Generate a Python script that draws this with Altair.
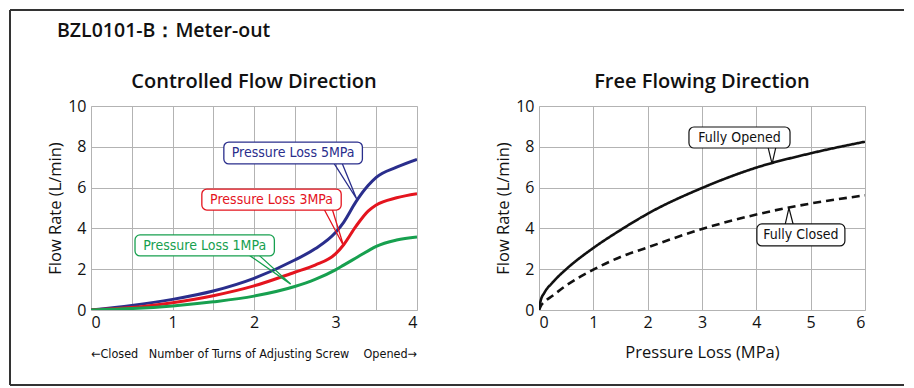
import altair as alt
import pandas as pd

# ---------------- data ----------------
turns = [0, 0.5, 1, 1.5, 2, 2.5, 2.75, 3, 3.1, 3.25, 3.4, 3.5, 3.75, 4]
loss_5mpa = [0, 0.22, 0.52, 0.93, 1.55, 2.45, 3.0, 3.8, 4.3, 5.3, 6.1, 6.5, 7.0, 7.38]
loss_3mpa = [0, 0.12, 0.36, 0.70, 1.18, 1.85, 2.2, 2.75, 3.2, 4.1, 4.85, 5.15, 5.5, 5.7]
loss_1mpa = [0, 0.07, 0.20, 0.40, 0.68, 1.15, 1.5, 1.97, 2.2, 2.55, 2.9, 3.12, 3.43, 3.58]

pressure = [0, 0.03, 0.1, 0.25, 0.5, 1, 1.5, 2, 3, 4, 5, 6]
fully_opened = [0, 0.45, 0.85, 1.35, 2.0, 3.04, 3.92, 4.72, 5.98, 6.98, 7.68, 8.25]
fully_closed = [0, 0.18, 0.4, 0.7, 1.2, 1.98, 2.6, 3.07, 3.97, 4.68, 5.22, 5.62]

series_left = ["Pressure Loss 5MPa", "Pressure Loss 3MPa", "Pressure Loss 1MPa"]
colors_left = ["#2a2e8c", "#e4141e", "#17a04f"]
series_right = ["Fully Opened", "Fully Closed"]

x_ticks_left = [0, 0.5, 1, 1.5, 2, 2.5, 3, 3.5, 4]
x_ticks_right = [0, 1, 2, 3, 4, 5, 6]
y_ticks = [0, 2, 4, 6, 8, 10]

# callout boxes (data units)
left_box_x = [1.63, 1.36, 0.54]
left_box_x2 = [3.33, 3.07, 2.25]
left_box_y = [7.16, 4.90, 2.65]
left_box_y2 = [8.23, 5.93, 3.68]
left_text_x = [2.48, 2.215, 1.395]
left_text_y = [7.68, 5.40, 3.15]
# pointer wedges: base-left, tip, base-right
left_ptr_x = [[2.98, 3.26, 3.08], [2.86, 3.10, 2.96], [1.94, 2.45, 2.06]]
left_ptr_y = [[7.20, 5.44, 7.20], [4.94, 3.14, 4.94], [2.69, 1.27, 2.69]]

right_box_x = [2.76, 4.01]
right_box_x2 = [4.62, 5.63]
right_box_y = [7.94, 3.14]
right_box_y2 = [8.97, 4.22]
right_text_x = [3.69, 4.82]
right_text_y = [8.43, 3.66]
right_ptr_x = [[4.215, 4.29, 4.36], [4.53, 4.60, 4.68]]
right_ptr_y = [[7.98, 7.16, 7.98], [4.18, 5.00, 4.18]]

W, H = 326, 204
FONT = "Open Sans"
NARROW = "'DejaVu Sans Condensed', 'Liberation Sans Narrow', Roboto, sans-serif"

# ---------------- tables ----------------
left_df = pd.DataFrame(
    [{"turns": t, "flow": v, "series": s}
     for s, vals in zip(series_left, [loss_5mpa, loss_3mpa, loss_1mpa])
     for t, v in zip(turns, vals)]
)
right_df = pd.DataFrame(
    [{"p": p, "flow": v, "series": s}
     for s, vals in zip(series_right, [fully_opened, fully_closed])
     for p, v in zip(pressure, vals)]
)
left_box = pd.DataFrame({"series": series_left, "x": left_box_x, "x2": left_box_x2,
                         "y": left_box_y, "y2": left_box_y2,
                         "tx": left_text_x, "ty": left_text_y})
left_ptr = pd.DataFrame([{"series": s, "i": i, "x": xs[i], "y": ys[i]}
                         for s, xs, ys in zip(series_left, left_ptr_x, left_ptr_y)
                         for i in range(3)])
right_box = pd.DataFrame({"series": series_right, "x": right_box_x, "x2": right_box_x2,
                          "y": right_box_y, "y2": right_box_y2,
                          "tx": right_text_x, "ty": right_text_y})
right_ptr = pd.DataFrame([{"series": s, "i": i, "x": xs[i], "y": ys[i]}
                          for s, xs, ys in zip(series_right, right_ptr_x, right_ptr_y)
                          for i in range(3)])
one = pd.DataFrame({"k": [0]})

# ---------------- scales / axes ----------------
col_left = alt.Color("series:N", scale=alt.Scale(domain=series_left, range=colors_left), legend=None)

common_axis = dict(domain=False, ticks=False, labelFontSize=16, labelFont=FONT, labelColor="#111",
                   gridColor="#b3b3b3", gridWidth=1, gridOpacity=1)

y_axis = alt.Axis(values=y_ticks, title="Flow Rate (L/min)", titleFont=FONT, titleFontSize=16.5,
                  titleFontWeight="normal", titleColor="#111", titlePadding=4, labelPadding=5,
                  format="d", **common_axis)
yl = alt.Y("flow:Q", scale=alt.Scale(domain=[0, 10], nice=False), axis=y_axis)

xl_axis = alt.Axis(values=x_ticks_left, title=None, labelPadding=4,
                   labelExpr="datum.value % 1 === 0 ? format(datum.value, 'd') : ''", **common_axis)
xl = alt.X("turns:Q", scale=alt.Scale(domain=[0, 4], nice=False), axis=xl_axis)

xr_axis = alt.Axis(values=x_ticks_right, title="Pressure Loss (MPa)", titleFont=FONT, titleFontSize=16.5,
                   titleFontWeight="normal", titleColor="#111", titlePadding=14, labelPadding=4,
                   format="d", **common_axis)
xr = alt.X("p:Q", scale=alt.Scale(domain=[0, 6], nice=False), axis=xr_axis)

# ---------------- left panel ----------------
left_lines = alt.Chart(left_df).mark_line(interpolate="monotone", strokeWidth=3, clip=True).encode(
    x=xl, y=yl, color=col_left)

lp = alt.Chart(left_ptr).mark_line(strokeWidth=1.3).encode(
    x="x:Q", y="y:Q", color=col_left, detail="series:N", order="i:Q")
lb = alt.Chart(left_box).mark_rect(fill="white", strokeWidth=1.3, cornerRadius=5).encode(
    x="x:Q", x2="x2", y="y:Q", y2="y2", stroke=col_left)
lt = alt.Chart(left_box).mark_text(font=NARROW, fontSize=14, baseline="middle", align="center").encode(
    x="tx:Q", y="ty:Q", text="series:N", color=col_left)


def txt(text, x, y, size, weight="normal", font=FONT, align="center"):
    return alt.Chart(one).mark_text(text=text, font=font, fontSize=size, fontWeight=weight,
                                    align=align, baseline="alphabetic", color="#111").encode(
        x=alt.value(x), y=alt.value(y))


frame = [
    alt.Chart(one).mark_rule(color="#333", strokeWidth=2).encode(
        x=alt.value(-81), y=alt.value(-96), y2=alt.value(279)),
    alt.Chart(one).mark_rule(color="#333", strokeWidth=2).encode(
        x=alt.value(-81), x2=alt.value(813), y=alt.value(-96)),
    alt.Chart(one).mark_rule(color="#333", strokeWidth=2).encode(
        x=alt.value(-81), x2=alt.value(813), y=alt.value(279)),
]

left = alt.layer(
    left_lines, lp, lb, lt,
    txt("BZL0101-B：Meter-out", -34, -69, 19.5, 600, align="left"),
    txt("Controlled Flow Direction", W / 2, -18, 20, 600),
    txt("←Closed", 0, 252, 12.5, font=NARROW, align="left"),
    txt("Number of Turns of Adjusting Screw", 158, 252, 12.5, font=NARROW),
    txt("Opened→", W, 252, 12.5, font=NARROW, align="right"),
    *frame,
).properties(width=W, height=H)

# ---------------- right panel ----------------
yr = alt.Y("flow:Q", scale=alt.Scale(domain=[0, 10], nice=False), axis=y_axis)
right_lines = alt.Chart(right_df).mark_line(interpolate="monotone", strokeWidth=2.6, clip=True,
                                            color="#111").encode(
    x=xr, y=yr,
    strokeDash=alt.StrokeDash("series:N", scale=alt.Scale(domain=series_right, range=[[1, 0], [8, 5]]),
                              legend=None))
rp = alt.Chart(right_ptr).mark_line(strokeWidth=1.2, color="#111").encode(
    x="x:Q", y="y:Q", detail="series:N", order="i:Q")
rb = alt.Chart(right_box).mark_rect(fill="white", stroke="#111", strokeWidth=1.2, cornerRadius=5).encode(
    x="x:Q", x2="x2", y="y:Q", y2="y2")
rt = alt.Chart(right_box).mark_text(font=NARROW, fontSize=14, baseline="middle", align="center",
                                    color="#111").encode(x="tx:Q", y="ty:Q", text="series:N")

right = alt.layer(
    right_lines, rp, rb, rt,
    txt("Free Flowing Direction", W / 2, -18, 20, 600),
).properties(width=W, height=H)

chart = alt.hconcat(left, right, spacing=122, bounds="flush", padding=0).configure_view(
    stroke="#5a5a5a", strokeWidth=2.5, fill="#f3f5f5"
).configure(background="white")

chart.save("out.html", embed_options={"renderer": "svg", "actions": False})
